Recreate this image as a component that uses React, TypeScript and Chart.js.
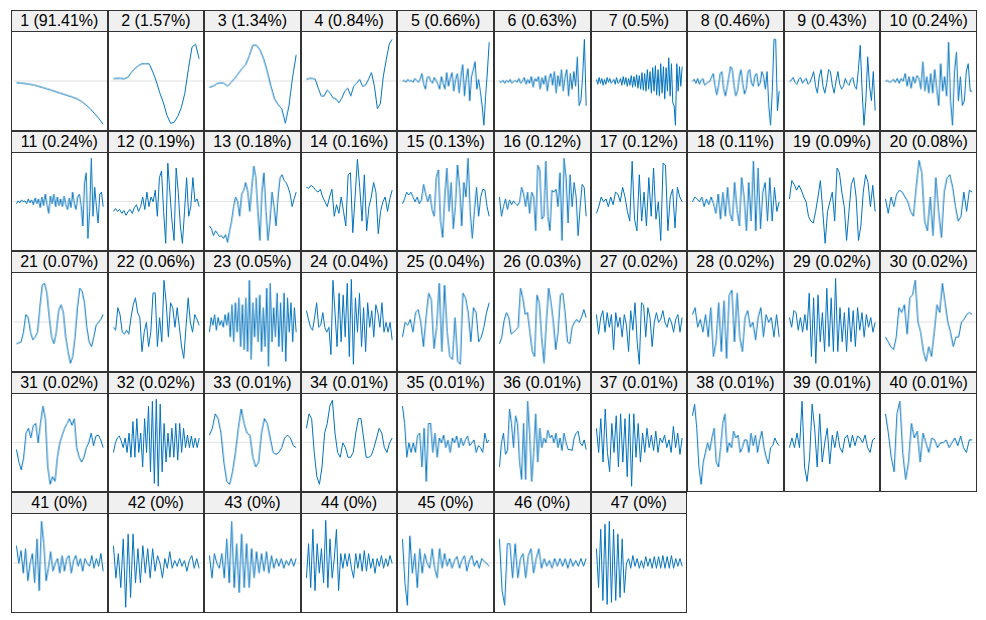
import React, { useEffect, useRef } from "react";
import { Chart, registerables } from "chart.js";

Chart.register(...registerables);

// Component share of variance (title labels)
const percents = [
  "91.41%", "1.57%", "1.34%", "0.84%", "0.66%", "0.63%", "0.5%", "0.46%", "0.43%", "0.24%",
  "0.24%", "0.19%", "0.18%", "0.16%", "0.13%", "0.12%", "0.12%", "0.11%", "0.09%", "0.08%",
  "0.07%", "0.06%", "0.05%", "0.04%", "0.04%", "0.03%", "0.02%", "0.02%", "0.02%", "0.02%",
  "0.02%", "0.02%", "0.01%", "0.01%", "0.01%", "0.01%", "0.01%", "0.01%", "0.01%", "0.01%",
  "0%", "0%", "0%", "0%", "0%", "0%", "0%",
];

// Component waveforms (arbitrary units, zero = centre)
const c1 = [-1.5, -1.8, -2.3, -3, -3.8, -5, -6.3, -7.6, -9, -10.5, -12, -13.4, -14.8, -16.3, -18, -20.5, -24, -28, -33, -38, -44];
const c2 = [2.7, 3, 3, 2.5, 4, 9, 13, 16, 18, 18, 18, 10, 0, -12, -22, -35, -43, -42, -36, -27, -12, 13, 35, 38, 23];
const c3 = [-6, -5, -2.5, -1.5, -2, -5, -1, 3, 8, 13, 17, 26, 37, 37, 32, 23, 10, -5, -18, -24, -28, -43, -25, 4, 27];
const c4 = [2, 3, 3, 2, -7, -15, -15, -9, -12, -17, -18, -22, -17, -10, -7, -15, -5, -2, 2, -5, -4, 2, 9, -5, -28, -23, 5, 22, 38, 43];
const c5 = [0, 1, -1, 2, 0, 1, -1, 3, 1, -1, 2, 8, -3, -8, 4, 5, 0, -2, 4, 1, -3, -8, 5, -2, -8, 9, -5, 3, 9, -10, 2, 8, -12, 5, 17, -15, 3, 13, -20, 5, 12, 20, -8, 2, -10, -25, -45, -15, 10, 40];
const c6 = [0, -1, 1, -2, 1, -1, 2, -2, 0, 1, -1, 3, -2, 0, 4, -3, 2, -2, 5, -6, 3, 0, 5, -8, 4, -3, 6, -10, 3, 8, -4, 10, -12, 6, -5, 12, -10, 4, 12, -15, 8, -8, 10, -5, 25, -25, -20, 5, 43, -25];
const c7 = [2, -3, 4, -2, 3, -4, 2, -3, 4, -1, 3, -2, 0, 2, -3, 4, -2, -1, 3, -4, 5, -3, 4, -5, 3, -4, 6, -6, 5, -5, 7, -7, 6, -8, 9, -9, 8, -10, 12, -8, 10, -12, 14, -10, 16, -14, 12, -15, 18, -12, 15, -18, 14, -10, 24, -15, 18, -22, -25, -45, 18, -10, 15, -5, 15];
const c8 = [0, 2, -2, 3, -3, 1, 3, -4, -2, -1, 0, 4, 8, -4, -14, -5, 8, 10, -8, -15, -6, 5, 15, 12, -5, -15, -10, 5, 12, -3, -13, -8, 10, 12, -2, -5, 6, 8, -5, -2, 10, 5, -8, 10, -25, -45, -10, 43, 43, -30, -10];
const c9 = [0, 1, 4, -1, -3, 2, 4, -2, 1, 3, -3, -1, 4, 10, -5, -12, 5, 12, -5, -12, -2, 12, 10, -4, -12, 0, 10, -3, -8, -5, 3, -2, -4, 2, 4, -5, -8, 12, 37, -10, -45, -20, 25, -5, -20, 10, -30];
const c10 = [0, 1, -1, 0, 2, -1, 3, -2, 3, 0, 8, -5, 5, -7, 5, -2, 6, 3, -8, 20, -10, 5, -12, 8, -12, 12, -8, -25, 18, -10, 5, -15, 40, -20, -45, 10, 30, -20, 5, -25, -20, 10, 18, -10, -10];
const c11 = [-2, 1, -1, 2, 0, 1, -2, 3, -1, 2, -3, 4, -2, 3, -6, 5, -4, 8, -3, -12, 6, -2, 8, -5, 5, -4, 3, -5, 6, -3, -8, 4, -6, 10, -2, -8, 5, 8, -4, -25, 20, 30, -38, -10, 45, -15, 15, -5, -22, 8, 10, -5];
const c12 = [-10, -7, -10, -8, -12, -9, -14, -10, -8, -12, -6, -3, -10, -5, 5, -8, 10, -5, 5, 0, 12, -15, 25, 32, -10, -43, 40, 10, -20, -40, 35, 10, -25, -43, -10, 25, -15, -5, 25, 0, 3, -5];
const c13 = [-25, -28, -35, -30, -33, -36, -35, -38, -34, -42, -30, -20, -5, 5, 0, -15, 8, 12, 20, 10, -10, 15, 37, 25, -10, -40, 10, 30, -10, -40, -20, 10, -5, -25, 5, 25, 28, 22, 20, 15, 8, -5, 3, 10];
const c14 = [15, 14, 17, 15, 12, 10, 13, 5, 0, -5, 5, 13, -15, -3, -12, 5, -10, -25, 28, 30, -32, 5, 44, 15, -20, 28, -30, -5, 5, 20, 10, -33, -10, 0, 5, -10, 3, 12];
const c15 = [-2, 3, 10, 7, 10, 5, 0, 5, -2, 2, 18, 8, 0, 8, -8, -15, 25, 33, -20, -37, 5, 35, -10, 20, -28, -5, 38, 15, -25, 20, 5, 45, -10, -38, -10, 15, -15, 5, 13, 12, -5, -15];
const c16 = [5, -15, -5, 3, -8, 2, -3, 1, -2, -4, 0, 15, 8, -5, 10, -12, 10, 5, -30, 38, 33, -18, -15, 42, -15, -30, 12, 10, 13, -5, 30, -40, 45, 25, -22, 28, -5, 20, 5, -35, -5, 18, 15, -15];
const c17 = [-12, -5, 5, 0, 3, -5, 5, -3, 10, 8, 0, 15, 5, -10, -20, 42, -18, -30, 28, -20, 10, -25, 25, -15, 35, -18, 0, -40, 40, 38, -30, 5, 13, -27, 15, 5, 0];
const c18 = [0, 5, 3, 0, 5, -5, 3, -3, 5, -2, -12, 8, -18, 10, -15, 15, -12, -20, 20, -8, -25, 25, 5, -30, 20, -20, 42, -30, 35, -28, 10, 20, -20, 25, -20, 15, -10, 0];
const c19 = [3, 22, 18, 12, 17, 12, 5, 0, -15, -20, -22, -10, 5, 22, -10, -43, -10, 0, 10, -20, 35, 30, 10, -5, -40, -10, 18, 25, 5, -40, -25, 10, 28, 20, -5, 17, -10];
const c20 = [3, -12, 5, -5, 8, 12, 10, 5, 0, -10, -15, 15, 43, 30, -20, -30, 5, -35, 25, -10, -37, 10, 25, 28, 15, -5, -20, -15, 10, -10, 12, 10];
const c21 = [-22, -21, -20, -10, 8, 5, -10, -18, -15, -10, 15, 38, 40, 30, 5, -15, -22, -10, 12, 18, 10, -15, -30, -42, -35, -15, 15, 35, 32, 20, -5, -20, -25, -15, -3, 0, 3, 8];
const c22 = [-5, -8, 15, 8, -10, -12, -8, -12, 5, 18, 25, 10, 5, -30, -10, 0, -25, -10, 30, 30, -25, 5, -20, 43, 20, -15, 20, 15, -5, 15, -5, -25, -37, -5, 25, 0, -10, 8, 3, -3];
const c23 = [-10, 5, -3, 8, -8, 5, -3, 2, -5, 8, -3, 10, -15, 18, -20, 20, -10, 25, -25, 18, -28, 25, -30, 43, -38, 20, -15, 25, -20, 28, -30, 15, -25, 35, -45, 40, -20, 15, -15, 30, -25, 20, -30, 30, -40, 25, -10, 20, -20, 15, -10];
const c24 = [12, 3, -5, -8, 5, 20, -5, -3, 10, -5, -10, -5, -33, 43, 10, -25, 30, -20, 28, -15, 40, -35, 44, -43, 25, -10, 30, -25, 15, -30, 20, -5, 12, -15, 18, 10, -5, 20, -10, 0, -10, 0, -18];
const c25 = [-15, 0, -3, 3, -10, 10, 13, 0, -25, 5, 30, 23, -27, -5, 40, -30, 38, -10, -35, -38, 5, -40, -43, 30, 25, 10, -20, 15, 10, -20, -15, -5, 10, 20];
const c26 = [-22, -15, 2, 10, 5, -12, -10, -8, -5, 35, 25, 8, 10, -10, -30, -35, 28, 20, -15, -42, 0, 35, 20, 0, -28, -10, 28, 30, 10, -20, -22, -5, 0, 3, 0, 5, 13, 5];
const c27 = [8, -12, 5, 12, -10, 10, -5, 8, -28, 10, -5, 5, -15, 8, -3, -30, 12, -8, 20, -20, -43, 20, 18, -15, 15, 5, -25, 0, 10, 0, 3, 12, 0, -5, 5, 0, -10, 3, 8, -10, 5];
const c28 = [8, 15, -5, 3, -10, 8, -15, 15, -35, -20, 20, -30, 22, -37, 28, 33, -20, 30, -15, -30, 5, 12, -5, 0, -18, 5, 15, -15, 8, 0, 5, -15, 8, -15];
const c29 = [5, -5, 12, 10, -8, 5, -10, 8, -8, 30, -35, 25, -42, 28, -20, 10, -30, 35, -25, 25, -30, 45, -30, 15, -20, 10, -30, 15, -20, 12, -25, 15, -8, 10, -15, 8, -5, 5, -10, 0];
const c30 = [-15, -20, -25, -28, -15, 15, 10, 18, -12, 25, 28, 43, 0, -10, -30, -40, -25, -35, -10, 18, 10, 40, 20, 0, -10, -25, -15, -15, 0, 3, 8, 10, 8];
const c31 = [-7, -20, -28, -15, 10, 15, 5, 18, 20, 0, 20, 38, 25, -25, -43, -35, -40, -15, 0, 8, 15, 20, 25, 18, 25, -5, -15, -20, -15, -5, 0, 10, -3, 7, 8, 3, -5];
const c32 = [-10, 0, 5, 7, 2, -5, 5, -10, 10, -15, 22, -15, 25, -10, 10, -25, 25, -10, 38, -30, 43, -42, 45, -45, 40, -30, 20, -20, 10, -15, 15, -15, 20, -18, 20, -10, 15, -5, 8, -5, 7, -5, 5, -5, 5];
const c33 = [8, 15, 30, 25, 10, -20, -40, -43, -30, -10, 15, 35, 20, 10, 8, -15, -25, -20, 10, 25, 20, 5, -10, -12, -10, -5, 5, 8, 5, -3, -5];
const c34 = [15, 30, 25, -10, -35, -43, -25, 10, 20, 38, 44, 10, -10, -15, 0, -5, -15, -15, -10, 10, 25, 25, 5, -15, -15, -13, -5, 5, 15, 10, -5, -10, 0, 5];
const c35 = [38, 20, -15, 0, -10, 0, -10, 8, 10, -25, 15, -40, 20, 20, -10, 10, -15, 5, 0, 8, -5, 3, -10, 5, 0, 7, -5, 5, -3, 3, 7, -3, 0, 3, -10, -3, -5, -10, 10, 0, 3];
const c36 = [-25, 0, 10, -12, -8, 35, 20, -5, 28, 20, -20, -38, 20, -38, 43, 10, -40, -10, 30, -20, 15, -5, 5, 0, 13, 5, 8, 0, 10, -5, 5, -8, 10, 0, -7, -7, -8, 5, 10, 12, 0, -3, 3, -7];
const c37 = [15, -10, 25, -20, 35, -10, -30, 20, -10, 28, -25, 30, -20, 25, -35, 30, -45, 30, -15, 20, -20, 10, -10, 15, -5, 8, -8, 12, -10, 5, 0, 8, -5, 3, -10, 17, -5, 10, -12, 5];
const c38 = [28, 40, 15, -25, -43, -20, -10, 0, -8, 5, 15, -20, -25, -5, 20, 30, -10, 0, -5, 12, 5, 8, -10, -5, 3, 3, -10, 10, -3, 8, -10, 3, 12, -5, -15, -22, -5, -3, 5, 0, -3];
const c39 = [-5, 5, -5, 10, -5, 43, -25, -40, -15, 40, 15, -25, 30, -20, 0, 15, -22, 8, -5, 12, -5, -10, 5, 8, -5, 8, -3, 7, 5, 0, 8, -5, -10, 3, 5];
const c40 = [30, 10, -15, -30, 30, 43, -10, -38, -20, 20, 5, 12, -20, 10, 0, -10, 5, 3, -5, 0, 0, 3, -5, 0, 5, -3, 7, -5, -10, 3, 3];
const c41 = [18, 0, 13, -10, 15, -18, 0, 10, -20, 25, -28, 43, 20, -18, -5, 12, -8, 0, 5, -10, 8, -8, 5, 8, -10, 3, 8, -3, 5, -8, 5, 0, -3, 8, -5, 5, -3, 10, -8];
const c42 = [18, -15, 10, -25, 25, -45, 30, -35, 30, -20, 15, -20, 18, -10, 15, -15, 15, -8, 8, 0, -15, 5, -5, 12, -5, 3, -3, 5, -3, 3, -8, 3, 8, -5, 5, -5];
const c43 = [8, -15, 10, 0, -5, 10, -15, 25, -20, 43, -25, 20, -30, 30, -25, 20, -25, 15, -15, 12, -10, 10, -8, 12, -10, 8, -5, 5, -3, 5, -5, 3, -2, 5, -3, 5];
const c44 = [-15, 20, -25, 35, -28, 20, -10, 15, -20, 44, -25, 25, -15, 5, 35, -28, 10, -5, 10, -3, 10, -5, -15, 10, -5, 10, -8, 13, -8, 10, -5, 5, -10, 5, -3, 8, -5, 5, -3, 8, 0];
const c45 = [25, -20, -43, 28, -10, 10, -25, 15, -10, 10, 0, -5, 15, -5, -15, 15, -5, 10, -3, 5, -5, 3, 7, -5, 3, 8, -8, 3, 8, -3, 3, -5, 5, 2, 0, -3];
const c46 = [25, -28, -43, 20, 20, -15, 20, -15, 5, 10, -15, 8, 15, -10, 5, 15, -5, 5, -3, 3, -5, 5, -3, 5, -3, 5, -5, 5, -3, 3, -3, 5, -3, 5];
const c47 = [15, -25, 35, -38, 40, -42, 43, -40, 35, -38, 30, -35, 25, -30, 0, 5, -5, 8, -3, 5, -5, 3, -5, 7, -3, 5, -5, 7, -5, 7, -5, 8, -5, 7, -5, 8, -5, 5, -3, 5, -3];

const components = [
  c1, c2, c3, c4, c5, c6, c7, c8, c9, c10,
  c11, c12, c13, c14, c15, c16, c17, c18, c19, c20,
  c21, c22, c23, c24, c25, c26, c27, c28, c29, c30,
  c31, c32, c33, c34, c35, c36, c37, c38, c39, c40,
  c41, c42, c43, c44, c45, c46, c47,
];

const LINE_COLOR = "#0072BD";

function Panel({ values, label }: { values: number[]; label: string }) {
  const ref = useRef<HTMLCanvasElement>(null);
  useEffect(() => {
    if (!ref.current) return;
    const n = values.length - 1;
    const pad = n * 0.046;
    const chart = new Chart(ref.current, {
      type: "line",
      data: {
        datasets: [
          {
            data: values.map((v, i) => ({ x: i, y: v })),
            borderColor: LINE_COLOR,
            borderWidth: 1,
            pointRadius: 0,
            tension: 0,
            fill: false,
          },
        ],
      },
      options: {
        animation: false,
        responsive: true,
        maintainAspectRatio: false,
        events: [],
        layout: { padding: 0 },
        plugins: { legend: { display: false }, tooltip: { enabled: false }, title: { display: false } },
        scales: {
          x: { type: "linear", display: false, min: -pad, max: n + pad },
          y: {
            min: -50,
            max: 50,
            border: { display: false },
            ticks: { display: false },
            grid: { color: "#e3e3e3", drawTicks: false, lineWidth: 1 },
            afterBuildTicks: (axis: any) => {
              axis.ticks = [{ value: 0 }];
            },
          },
        },
      },
    });
    return () => chart.destroy();
  }, [values]);

  return (
    <div
      style={{
        boxSizing: "border-box",
        border: "1px solid #333",
        display: "flex",
        flexDirection: "column",
        width: "100%",
        height: "100%",
        background: "#fff",
      }}
    >
      <div
        style={{
          height: 20,
          lineHeight: "20px",
          background: "#f0f0f0",
          borderBottom: "1px solid #333",
          textAlign: "center",
          fontFamily: '"Liberation Sans", Arial, sans-serif',
          fontSize: 16,
          color: "#000",
          whiteSpace: "nowrap",
          overflow: "hidden",
        }}
      >
        {label}
      </div>
      <div style={{ position: "relative", flex: 1, minHeight: 0 }}>
        <canvas ref={ref} />
      </div>
    </div>
  );
}

export default function App() {
  return (
    <div
      style={{
        marginLeft: 3,
        marginTop: 2,
        display: "grid",
        gridTemplateColumns: "repeat(10, 96.6px)",
        gridAutoRows: "120.6px",
      }}
    >
      {components.map((vals, i) => (
        <Panel key={i} values={vals} label={`${i + 1} (${percents[i]})`} />
      ))}
    </div>
  );
}
